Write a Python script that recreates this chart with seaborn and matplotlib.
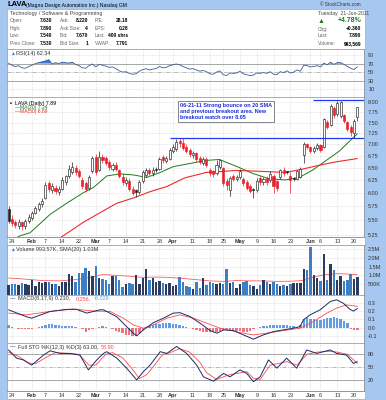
import numpy as np
import pandas as pd
import matplotlib
matplotlib.use('Agg')
import matplotlib.pyplot as plt
from matplotlib.ticker import NullLocator
import seaborn as sns

# trading days on the chart (21-Jan-2011 .. 21-Jun-2011)
holidays = ['2011-02-21', '2011-04-22', '2011-05-30']
dates = pd.bdate_range('2011-01-21', '2011-06-21')
dates = dates[~dates.isin(pd.to_datetime(holidays))]

tick_dates = ['2011-01-24', '2011-02-01', '2011-02-07', '2011-02-14', '2011-02-22',
              '2011-03-01', '2011-03-07', '2011-03-14', '2011-03-21', '2011-03-28',
              '2011-04-01', '2011-04-11', '2011-04-18', '2011-04-25', '2011-05-02',
              '2011-05-09', '2011-05-16', '2011-05-23', '2011-06-01', '2011-06-06',
              '2011-06-13', '2011-06-20']
tick_labels = ['24', 'Feb', '7', '14', '22', 'Mar', '7', '14', '21', '28', 'Apr', '11',
               '18', '25', 'May', '9', '16', '23', 'Jun', '6', '13', '20']
month_labels = ['Feb', 'Mar', 'Apr', 'May', 'Jun']

# daily candles
opens = [5.69, 5.52, 5.46, 5.40, 5.46, 5.40, 5.48, 5.53, 5.62, 5.70,
         5.78, 5.90, 6.18, 6.05, 6.10, 6.02, 6.08, 6.20, 6.32, 6.40,
         6.50, 6.42, 6.25, 6.18, 6.10, 6.42, 6.72, 6.45, 6.72, 6.70,
         6.62, 6.48, 6.55, 6.45, 6.30, 6.18, 6.22, 6.08, 6.05, 6.02,
         6.22, 6.35, 6.45, 6.38, 6.48, 6.48, 6.72, 6.64, 6.68, 6.85,
         6.90, 7.08, 7.02, 6.95, 6.88, 6.76, 6.80, 6.70, 6.60, 6.68,
         6.45, 6.42, 6.38, 6.52, 6.50, 6.22, 6.06, 6.32, 6.26, 6.30,
         6.26, 6.20, 6.12, 6.08, 6.06, 6.28, 6.20, 6.28, 6.24, 6.32,
         6.22, 6.30, 6.46, 6.42, 6.32, 6.28, 6.26, 6.30, 6.76, 7.00,
         6.94, 6.86, 6.92, 6.98, 6.94, 7.52, 7.45, 7.85, 7.70, 7.66,
         7.68, 7.52, 7.40, 7.25, 7.63]
highs = [5.75, 5.58, 5.50, 5.52, 5.49, 5.51, 5.60, 5.66, 5.75, 5.82,
         5.90, 6.20, 6.22, 6.18, 6.15, 6.12, 6.30, 6.35, 6.55, 6.62,
         6.55, 6.48, 6.30, 6.22, 6.35, 6.75, 6.78, 6.85, 6.78, 6.74,
         6.65, 6.60, 6.62, 6.48, 6.38, 6.30, 6.28, 6.12, 6.08, 6.25,
         6.45, 6.50, 6.50, 6.52, 6.52, 6.72, 6.76, 6.74, 6.92, 7.00,
         7.12, 7.14, 7.14, 7.00, 6.92, 6.86, 6.84, 6.75, 6.72, 6.72,
         6.50, 6.46, 6.65, 6.69, 6.52, 6.28, 6.32, 6.36, 6.35, 6.48,
         6.30, 6.24, 6.16, 6.10, 6.28, 6.32, 6.30, 6.33, 6.42, 6.36,
         6.25, 6.48, 6.52, 6.44, 6.40, 6.30, 6.46, 6.52, 7.05, 7.04,
         6.96, 6.96, 7.02, 7.00, 7.62, 7.56, 7.96, 7.90, 8.03, 8.04,
         7.72, 7.55, 7.45, 7.58, 7.89]
lows = [5.45, 5.40, 5.36, 5.35, 5.33, 5.34, 5.44, 5.50, 5.60, 5.66,
        5.74, 5.88, 6.02, 6.00, 5.98, 5.96, 6.05, 6.15, 6.28, 6.36,
        6.35, 6.28, 6.08, 6.02, 6.06, 6.38, 6.35, 6.42, 6.60, 6.55,
        6.45, 6.42, 6.44, 6.28, 6.15, 6.12, 6.03, 5.95, 5.92, 5.98,
        6.18, 6.30, 6.34, 6.32, 6.40, 6.45, 6.60, 6.60, 6.65, 6.82,
        6.86, 6.95, 6.88, 6.80, 6.72, 6.70, 6.62, 6.58, 6.55, 6.52,
        6.32, 6.30, 6.35, 6.48, 6.12, 6.05, 5.93, 6.22, 6.22, 6.26,
        6.12, 6.05, 6.00, 5.90, 6.02, 6.15, 6.14, 6.15, 6.20, 6.00,
        6.04, 6.26, 6.33, 6.36, 6.00, 6.22, 6.24, 6.28, 6.60, 6.90,
        6.82, 6.80, 6.88, 6.84, 6.92, 7.35, 7.42, 7.62, 7.66, 7.62,
        7.50, 7.30, 7.20, 7.14, 7.54]
closes = [5.48, 5.45, 5.42, 5.46, 5.40, 5.48, 5.55, 5.62, 5.72, 5.78,
          5.85, 6.15, 6.08, 6.12, 6.03, 6.08, 6.25, 6.32, 6.48, 6.52,
          6.40, 6.33, 6.12, 6.08, 6.30, 6.70, 6.40, 6.72, 6.65, 6.60,
          6.52, 6.55, 6.48, 6.32, 6.20, 6.25, 6.08, 6.00, 6.01, 6.20,
          6.40, 6.45, 6.38, 6.45, 6.46, 6.68, 6.65, 6.70, 6.88, 6.95,
          7.05, 7.02, 6.92, 6.85, 6.78, 6.82, 6.68, 6.62, 6.68, 6.56,
          6.38, 6.36, 6.55, 6.65, 6.18, 6.15, 6.28, 6.27, 6.30, 6.42,
          6.18, 6.10, 6.04, 6.05, 6.22, 6.20, 6.26, 6.20, 6.36, 6.12,
          6.10, 6.45, 6.38, 6.40, 6.24, 6.26, 6.42, 6.48, 7.00, 6.95,
          6.86, 6.92, 6.98, 6.88, 7.58, 7.40, 7.92, 7.68, 7.98, 8.00,
          7.55, 7.35, 7.28, 7.53, 7.89]

# moving averages, sampled along the drawn lines (day index, value)
ma20_day = [1, 3.4, 6.4, 12.4, 17.3, 22.3, 25.3, 29.3, 33.2, 37.2, 41.2, 45.2, 49.1,
            52.9, 58.9, 62.8, 67.8, 72.8, 77.8, 82.7, 86.7, 90.7, 94.7, 98.6, 102.6, 104]
ma20_val = [5.15, 5.23, 5.28, 5.60, 5.80, 6.00, 6.10, 6.33, 6.37, 6.35, 6.30, 6.40, 6.52,
            6.57, 6.65, 6.67, 6.53, 6.38, 6.27, 6.25, 6.30, 6.45, 6.65, 6.85, 7.14, 7.24]
ma50_day = [14, 16.3, 22.3, 27.3, 32.2, 37.2, 42.2, 47.2, 52.5, 58.9, 67.8, 72.8,
            82.7, 87.7, 92.7, 97.6, 104]
ma50_val = [5.15, 5.23, 5.46, 5.63, 5.80, 5.90, 6.02, 6.12, 6.29, 6.40, 6.44, 6.43,
            6.40, 6.47, 6.55, 6.62, 6.69]

breakout_level = 8.05
breakout_from = '2011-06-02'
support_level = 7.14
support_from = '2011-03-31'

# volume in millions, one per day
volume = [0.55, 0.62, 0.58, 0.55, 0.68, 0.60, 0.55, 0.82, 0.50, 0.70,
          0.68, 0.75, 0.70, 0.62, 0.60, 0.52, 0.72, 0.70, 1.20, 1.05,
          0.70, 1.22, 1.25, 1.55, 1.35, 1.10, 1.65, 0.95, 0.90, 0.85,
          0.60, 1.10, 1.05, 0.85, 0.45, 0.60, 0.68, 0.62, 1.12, 0.60,
          0.95, 1.50, 0.85, 0.95, 0.70, 0.80, 0.65, 0.58, 0.68, 0.50,
          0.55, 1.00, 0.72, 0.50, 0.45, 0.30, 0.75, 0.35, 0.95, 0.55,
          0.75, 0.68, 0.60, 0.68, 0.62, 1.50, 0.68, 0.70, 0.38, 0.62,
          0.70, 0.78, 0.55, 0.50, 0.30, 0.55, 0.82, 0.75, 0.60, 0.75,
          0.60, 0.52, 0.55, 0.50, 0.62, 0.65, 0.65, 0.68, 1.45, 1.40,
          2.73, 1.15, 0.95, 0.80, 2.35, 0.82, 1.75, 1.40, 0.82, 1.10,
          0.78, 0.85, 1.18, 0.90, 0.99]
vol_sma_day = [0, 5, 10, 15, 20, 25, 28, 32, 36, 40, 44, 48, 52, 56, 60, 64, 68, 72,
               76, 80, 84, 88, 90, 92, 95, 98, 101, 104]
vol_sma_val = [0.85, 0.78, 0.70, 0.68, 0.75, 0.90, 1.05, 1.00, 0.95, 0.88, 0.90, 0.88,
               0.82, 0.75, 0.68, 0.65, 0.70, 0.68, 0.68, 0.65, 0.66, 0.70, 0.85, 0.95,
               1.05, 1.10, 1.08, 1.03]

# RSI(14), one per day
rsi = [71, 66, 63, 65, 60, 59, 63, 66, 70, 72, 74, 76, 79, 69, 72, 70, 73, 72, 71, 73,
       68, 65, 60, 59, 65, 69, 62, 68, 66, 64, 61, 62, 58, 53, 50, 51, 47, 45, 46, 52,
       56, 58, 55, 57, 58, 63, 60, 61, 65, 67, 69, 67, 63, 60, 57, 58, 55, 52, 54, 51,
       46, 45, 50, 53, 44, 42, 48, 47, 48, 52, 46, 44, 42, 43, 48, 47, 49, 47, 51, 45,
       44, 51, 49, 53, 48, 50, 55, 52, 66, 65, 62, 63, 65, 62, 71, 67, 73, 68, 72, 72,
       68, 63, 59, 56, 62.34]

# MACD(8,17,9)
macd_day = [0, 5.4, 6.9, 12.4, 17.3, 20.3, 23.3, 27.3, 28.3, 32.3, 35.2, 37.2, 38.2,
            40.2, 43.2, 46.2, 49.1, 51.1, 54.1, 57.1, 60.1, 62.1, 64.1, 67, 70, 73, 76,
            79, 81.9, 84.9, 86.9, 87.9, 89.9, 92.9, 95.9, 97.8, 99.8, 101.8, 102.8, 104]
macd_val = [0.215, 0.13, 0.114, 0.195, 0.22, 0.22, 0.175, 0.215, 0.215, 0.13, 0.012,
            -0.068, -0.10, -0.028, 0.06, 0.114, 0.175, 0.18, 0.134, 0.053, -0.036,
            -0.068, -0.028, -0.036, -0.088, -0.14, -0.088, -0.048, -0.028, -0.008,
            0.012, 0.093, 0.154, 0.215, 0.315, 0.336, 0.295, 0.22, 0.20, 0.23]
signal_day = [0, 5.4, 12.4, 19.3, 25.3, 30.3, 34.2, 37.2, 40.2, 43.2, 47.2, 51.1, 55.1,
              59.1, 63.1, 69, 73, 77, 81.9, 86.9, 90.9, 94.9, 97.8, 100.8, 104]
signal_val = [0.175, 0.154, 0.195, 0.225, 0.20, 0.195, 0.114, 0.033, -0.008, 0.033,
              0.114, 0.154, 0.114, 0.053, -0.008, -0.06, -0.088, -0.068, -0.036,
              -0.008, 0.073, 0.175, 0.235, 0.275, 0.256]
macd_hist = [0.03, 0.01, -0.01, -0.015, -0.02, -0.02, -0.02, -0.015, -0.005, 0.01,
             0.025, 0.035, 0.045, 0.04, 0.035, 0.03, 0.025, 0.02, 0.02, 0.015,
             0.01, 0.0, -0.02, -0.05, -0.03, -0.015, 0.0, 0.01, 0.015, 0.01,
             0.0, -0.02, -0.04, -0.055, -0.07, -0.085, -0.095, -0.1, -0.1, -0.07,
             -0.03, 0.01, 0.02, 0.03, 0.04, 0.045, 0.05, 0.05, 0.05, 0.045,
             0.04, 0.03, 0.02, 0.01, 0.0, -0.015, -0.03, -0.04, -0.05, -0.055,
             -0.05, -0.05, -0.055, -0.04, -0.025, -0.02, -0.025, -0.03, -0.04, -0.045,
             -0.05, -0.05, -0.04, -0.02, -0.005, 0.005, 0.015, 0.02, 0.03, 0.035,
             0.03, 0.03, 0.035, 0.03, 0.025, 0.015, 0.01, 0.03, 0.1, 0.11,
             0.1, 0.1, 0.09, 0.09, 0.1, 0.11, 0.12, 0.13, 0.11, 0.1,
             0.08, 0.05, -0.02, -0.035, -0.026]

# Full STO %K(12,3) %D(3)
stok_day = [0, 2.4, 4.4, 6.9, 10.4, 12.4, 15.3, 18.3, 21.3, 23.8, 26.3, 28.3, 29.3,
            32.3, 35.2, 38.2, 40.2, 42.2, 45.2, 47.2, 50.1, 53.1, 56.1, 58.1, 61.1,
            64.1, 66, 69, 71, 73, 75, 77.5, 80, 82.9, 85.9, 88.9, 91.9, 95.9, 97.8,
            100.8, 102.8, 104]
stok_val = [90, 71, 67, 55, 78, 88, 82, 82, 78, 44, 67, 82, 86, 71, 48, 21, 40, 55,
            86, 82, 98, 82, 55, 28, 18, 36, 28, 44, 36, 17, 28, 67, 48, 71, 48, 90,
            82, 90, 82, 78, 59, 63]
stod_day = [0, 3, 6, 8, 11, 14, 18, 21, 24, 26, 29, 31, 34, 37, 39, 41, 43, 46, 48,
            51, 54, 57, 59, 62, 64, 66, 69, 71, 73, 75, 78, 80, 83, 86, 89, 92, 96,
            98, 101, 104]
stod_val = [85, 75, 60, 58, 72, 84, 82, 80, 55, 55, 80, 84, 72, 45, 24, 32, 50, 80,
            83, 93, 85, 62, 38, 22, 28, 33, 37, 40, 25, 22, 55, 58, 63, 55, 80, 85,
            87, 85, 80, 58.9]

# ---------------------------------------------------------------------------
sns.set_theme(style='white')
plt.rcParams['font.family'] = ['Liberation Sans', 'DejaVu Sans']

W, H = 386, 400
BLUE_BG = '#a6c7ef'
GRID = '#c4c4c4'
TXT = '#333333'
NAVY = '#1c2b66'
RED = '#e8202a'

fig = plt.figure(figsize=(W / 100, H / 100), dpi=100, facecolor=BLUE_BG)


def box(x0, y0, x1, y1):
    return [x0 / W, 1 - y1 / H, (x1 - x0) / W, (y1 - y0) / H]


def ftext(x, y, s, **kw):
    kw.setdefault('fontsize', 3.6)
    kw.setdefault('color', TXT)
    kw.setdefault('va', 'center')
    fig.text(x / W, 1 - y / H, s, **kw)


days = np.arange(len(dates))
tick_pos = dates.get_indexer(pd.to_datetime(tick_dates))
xlim = (-0.46, 105.97)

# white strips behind the panels (info box and the two date rows)
for y0, y1 in [(9, 48.5), (237, 245), (391, 398.5)]:
    fig.patches.append(plt.Rectangle((7 / W, 1 - y1 / H), (365 - 7) / W, (y1 - y0) / H,
                                     transform=fig.transFigure, facecolor='white',
                                     edgecolor='#8aa0c0', lw=0.4, zorder=-1))


def style_panel(ax, show_dates=False):
    ax.set_facecolor('white')
    ax.set_xlim(*xlim)
    ax.set_xticks(tick_pos)
    if show_dates:
        ax.set_xticklabels(tick_labels)
        for lab in ax.get_xticklabels():
            lab.set_fontsize(4)
            lab.set_color(TXT)
            if lab.get_text() in month_labels:
                lab.set_fontweight('bold')
    else:
        ax.set_xticklabels([])
    ax.yaxis.tick_right()
    ax.tick_params(axis='x', length=0, pad=1.2)
    ax.tick_params(axis='y', length=0, pad=3, labelsize=4, labelcolor=TXT)
    ax.grid(True, color=GRID, lw=0.4, ls=(0, (1, 1.5)))
    for sp in ax.spines.values():
        sp.set_color('#8a8a8a')
        sp.set_linewidth(0.5)


# ---- header ----
ftext(8, 5, 'LAVA', fontsize=5.5, fontweight='bold', color='black')
ftext(26, 5.3, '(Magna Design Automation Inc.) Nasdaq GM', fontsize=3.6, color='black')
ftext(361, 5, '\u00a9 StockCharts.com', fontsize=3.3, ha='right', color='#333333')
ftext(10, 14, 'Technology / Software & Programming', fontsize=3.9, color='#444444')

rows_y = [20.7, 28.2, 35.7, 43.2]
col_labels = [['Open:', 'High:', 'Low:', 'Prev Close:'],
              ['Ask:', 'Ask Size:', 'Bid:', 'Bid Size:'],
              ['P/E:', 'EPS:', 'Last:', 'VWAP:']]
col_values = [['7.630', '7.890', '7.540', '7.530'],
              ['8.220', '4', '7.670', '1'],
              ['28.18', '0.28', '400 shrs', '7.791']]
col_lx = [10, 60, 95]
col_vx = [52, 88, 128]
for lx, vx, labs, vals in zip(col_lx, col_vx, col_labels, col_values):
    for y, lab, val in zip(rows_y, labs, vals):
        ftext(lx, y, lab, color='#666666', fontsize=3.5)
        ftext(vx, y, val, ha='right', fontweight='bold', color='black', fontsize=3.5)

ftext(318, 13.5, 'Tuesday  21-Jun-2011', fontsize=3.7, color='#444444')
ftext(321.5, 21.5, '\u25b2', fontsize=5, color='#1a7a1a', ha='center')
ftext(361, 21, '+4.78%', fontsize=5, ha='right', fontweight='bold', color='#1a7a1a')
for y, lab, val in zip([29, 35.6, 43.2], ['Chg:', 'Last:', 'Volume:'],
                       ['+0.360', '7.890', '993,569']):
    ftext(318, y, lab, color='#666666', fontsize=3.5)
    ftext(361, y, val, ha='right', fontweight='bold', color='black', fontsize=3.6)

# ---- RSI ----
ax_rsi = fig.add_axes(box(7, 48.5, 364, 97))
style_panel(ax_rsi)
ax_rsi.set_ylim(-8, 105)
ax_rsi.set_yticks([10, 30, 50, 70, 90])
ax_rsi.axhline(70, color='#9a9a9a', lw=0.6)
ax_rsi.axhline(30, color='#9a9a9a', lw=0.6)
ax_rsi.axhline(50, color='#b0b0b0', lw=0.6, ls=(0, (5, 2, 1, 2)))
rsi_arr = np.array(rsi, dtype=float)
ax_rsi.fill_between(days, 70, rsi_arr, where=rsi_arr > 70, interpolate=True,
                    color='#3c7ad6', lw=0)
sns.lineplot(x=days, y=rsi_arr, ax=ax_rsi, color='#3b5b9a', lw=0.6)
ax_rsi.set_xlabel('')
ax_rsi.set_ylabel('')
ax_rsi.text(0.008, 0.9, '\u25b2', transform=ax_rsi.transAxes, fontsize=3.5,
            color='#3c7ad6', va='center')
ax_rsi.text(0.025, 0.9, 'RSI(14) 62.34', transform=ax_rsi.transAxes, fontsize=4,
            color=TXT, va='center')

# ---- price ----
ax_px = fig.add_axes(box(7, 97, 364, 237))
style_panel(ax_px, show_dates=True)
ax_px.set_yscale('log')
ax_px.set_ylim(5.21, 8.14)
price_ticks = [5.25, 5.50, 5.75, 6.00, 6.25, 6.50, 6.75, 7.00, 7.25, 7.50, 7.75, 8.00]
ax_px.set_yticks(price_ticks)
ax_px.set_yticklabels([f'{t:.2f}' for t in price_ticks])
ax_px.yaxis.set_minor_locator(NullLocator())
ax_px.grid(True, color=GRID, lw=0.4, ls=(0, (1, 1.5)))

prev = [closes[0]] + closes[:-1]
for d, o, h, l, c, pc in zip(days, opens, highs, lows, closes, prev):
    col = RED if c < pc else '#222222'
    face = col if c < o else 'white'
    ax_px.vlines(d, l, h, color=col, lw=0.5, zorder=3)
    ax_px.bar(d, max(abs(c - o), 0.006), bottom=min(o, c), width=0.62,
              facecolor=face, edgecolor=col, lw=0.45, zorder=4)

sns.lineplot(x=ma20_day, y=ma20_val, ax=ax_px, color='#1e7a1e', lw=0.7)
sns.lineplot(x=ma50_day, y=ma50_val, ax=ax_px, color='#f02a2a', lw=0.8)
ax_px.set_xlabel('')
ax_px.set_ylabel('')

bx0 = dates.get_loc(pd.Timestamp(breakout_from)) - 0.2
sx0 = dates.get_loc(pd.Timestamp(support_from)) + 0.2
ax_px.hlines(breakout_level, bx0, xlim[1], color='#2238ee', lw=0.9, zorder=5)
ax_px.hlines(support_level, sx0, xlim[1], color='#2238ee', lw=0.9, zorder=5)

ax_px.text(0.008, 0.955, '\u25aa', transform=ax_px.transAxes, fontsize=4, color='black',
           va='center')
ax_px.text(0.022, 0.955, 'LAVA (Daily) 7.89', transform=ax_px.transAxes, fontsize=3.8,
           color='black', va='center')
ax_px.text(0.022, 0.925, '\u2014MA(20) 7.24', transform=ax_px.transAxes, fontsize=3.6,
           color='#1e7a1e', va='center')
ax_px.text(0.022, 0.895, '\u2014MA(50) 6.69', transform=ax_px.transAxes, fontsize=3.6,
           color='#f02a2a', va='center')

ftext(179.5, 103, '06-21-11 Strong bounce on 20 SMA\nand previous breakout area. New\n'
      'breakout watch over 8.05', fontsize=4, fontweight='bold', color='#1a2fd8',
      va='top', linespacing=1.25,
      bbox=dict(boxstyle='square,pad=0.35', facecolor='white', edgecolor='#555555',
                lw=0.5))

# ---- volume ----
ax_vol = fig.add_axes(box(7, 245, 364, 294.5))
style_panel(ax_vol)
ax_vol.set_ylim(-0.11, 2.76)
ax_vol.set_yticks([0.5, 1.0, 1.5, 2.0, 2.5])
ax_vol.set_yticklabels(['500K', '1.0M', '1.5M', '2.0M', '2.5M'])
vol_cols = ['#2d3b5e' if c >= pc else '#3e7fc3' for c, pc in zip(closes, prev)]
ax_vol.bar(days, volume, bottom=-0.11, width=0.72, color=vol_cols, lw=0, zorder=3)
sns.lineplot(x=vol_sma_day, y=vol_sma_val, ax=ax_vol, color='#ff5a5a', lw=0.6)
ax_vol.set_xlabel('')
ax_vol.set_ylabel('')
ax_vol.text(0.008, 0.9, '\u25b2', transform=ax_vol.transAxes, fontsize=3.5,
            color='#3c7ad6', va='center')
ax_vol.text(0.025, 0.9, 'Volume 993.57K, SMA(20) 1.03M', transform=ax_vol.transAxes,
            fontsize=4, color=TXT, va='center')

# ---- MACD ----
ax_macd = fig.add_axes(box(7, 294.5, 364, 343.3))
style_panel(ax_macd)
ax_macd.set_ylim(-0.19, 0.40)
ax_macd.set_yticks([-0.1, 0.0, 0.1, 0.2, 0.3])
ax_macd.set_yticklabels(['-0.1', '0.0', '0.1', '0.2', '0.3'])
hist_cols = ['#5f9de6' if v >= 0 else '#ee7380' for v in macd_hist]
ax_macd.bar(days, macd_hist, width=0.7, color=hist_cols, lw=0, zorder=2)
sns.lineplot(x=signal_day, y=signal_val, ax=ax_macd, color='#ff4a4a', lw=0.6)
sns.lineplot(x=macd_day, y=macd_val, ax=ax_macd, color=NAVY, lw=0.7)
ax_macd.set_xlabel('')
ax_macd.set_ylabel('')
ax_macd.text(0.008, 0.92, '\u2014', transform=ax_macd.transAxes, fontsize=4,
             color=NAVY, va='center')
ax_macd.text(0.03, 0.92, 'MACD(8,17,9) 0.230,', transform=ax_macd.transAxes,
             fontsize=4, color=TXT, va='center')
ax_macd.text(0.192, 0.92, '0.256,', transform=ax_macd.transAxes, fontsize=4,
             color='#ff4a4a', va='center')
ax_macd.text(0.243, 0.92, '-0.026', transform=ax_macd.transAxes, fontsize=4,
             color='#5f9de6', va='center')

# ---- Full STO ----
ax_sto = fig.add_axes(box(7, 343.3, 364, 391))
style_panel(ax_sto, show_dates=True)
ax_sto.set_ylim(-4.6, 105.3)
ax_sto.set_yticks([20, 50, 80])
ax_sto.axhline(80, color='#9a9a9a', lw=0.6)
ax_sto.axhline(20, color='#9a9a9a', lw=0.6)
ax_sto.axhline(50, color='#b0b0b0', lw=0.6, ls=(0, (5, 2, 1, 2)))
sns.lineplot(x=stod_day, y=stod_val, ax=ax_sto, color='#ff4a4a', lw=0.6)
sns.lineplot(x=stok_day, y=stok_val, ax=ax_sto, color=NAVY, lw=0.7)
ax_sto.set_xlabel('')
ax_sto.set_ylabel('')
ax_sto.text(0.008, 0.92, '\u2014', transform=ax_sto.transAxes, fontsize=4,
            color=NAVY, va='center')
ax_sto.text(0.03, 0.92, 'Full STO %K(12,3) %D(3) 63.00,', transform=ax_sto.transAxes,
            fontsize=4, color=TXT, va='center')
ax_sto.text(0.262, 0.92, '58.90', transform=ax_sto.transAxes, fontsize=4,
            color='#ff4a4a', va='center')

fig.savefig('out.png', dpi=100, facecolor=BLUE_BG)
